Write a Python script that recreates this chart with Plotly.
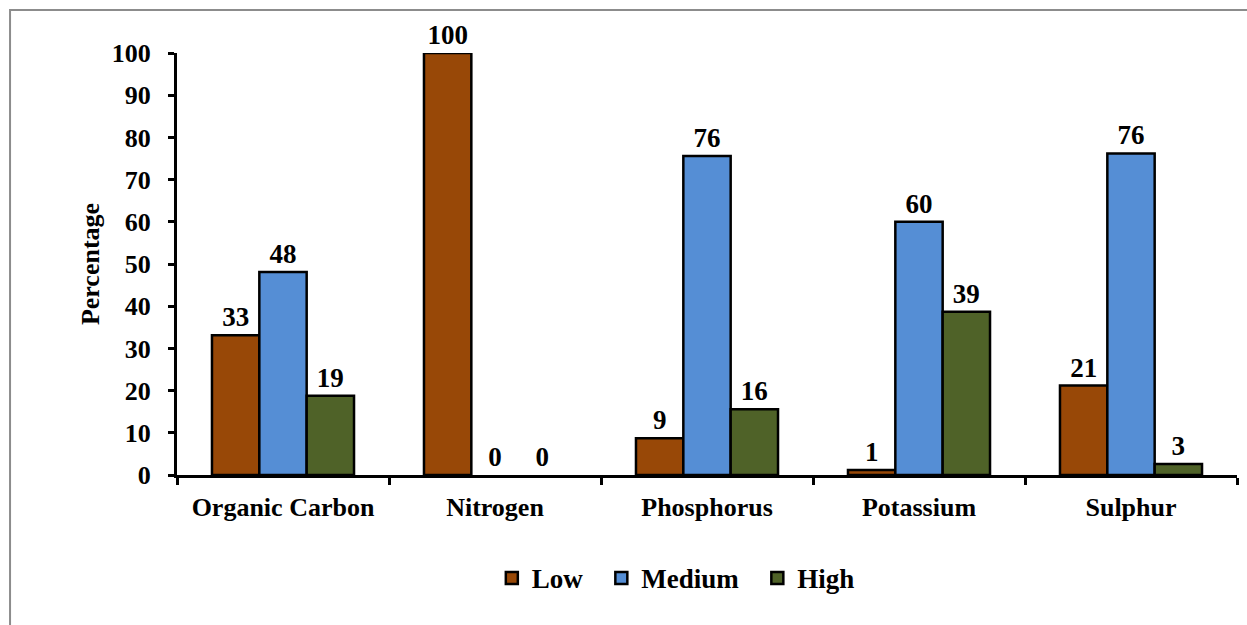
import plotly.graph_objects as go

categories = ["Organic Carbon", "Nitrogen", "Phosphorus", "Potassium", "Sulphur"]
low = [33.1, 100, 8.7, 1.2, 21.2]
medium = [48.1, 0, 75.6, 60.0, 76.2]
high = [18.8, 0, 15.6, 38.7, 2.6]
low_labels = ["33", "100", "9", "1", "21"]
medium_labels = ["48", "0", "76", "60", "76"]
high_labels = ["19", "0", "16", "39", "3"]
y_ticks = [0, 10, 20, 30, 40, 50, 60, 70, 80, 90, 100]

FONT = "Liberation Serif"
FS = 26
series = [
    ("Low", low, low_labels, "#984807"),
    ("Medium", medium, medium_labels, "#558ED5"),
    ("High", high, high_labels, "#4F6228"),
]

fig = go.Figure()
for name, vals, labels, color in series:
    fig.add_trace(go.Bar(
        name=f"<b>{name}</b>&nbsp;&nbsp;", x=categories, y=vals,
        text=[f"<b>{l}</b>" for l in labels],
        textposition="outside", cliponaxis=False,
        textfont=dict(family=FONT, size=27, color="black"),
        marker=dict(color=color,
                    line=dict(color="black", width=[0 if v == 0 else 2.5 for v in vals])),
    ))

fig.update_layout(
    width=1247, height=625,
    margin=dict(l=177, r=10, t=53, b=150),
    paper_bgcolor="white", plot_bgcolor="white",
    barmode="group", bargap=0.33, bargroupgap=0,
    font=dict(family=FONT, size=FS, color="black"),
    showlegend=True,
    legend=dict(orientation="h", x=0.297, xanchor="left", y=-0.245, yanchor="middle",
                font=dict(family=FONT, size=27, color="black"),
                itemwidth=30, traceorder="normal"),
    uniformtext=dict(mode=False),
)
fig.update_xaxes(
    showline=True, linecolor="black", linewidth=3,
    ticks="outside", tickson="boundaries", ticklen=7, tickwidth=3, tickcolor="black",
    tickfont=dict(family=FONT, size=FS, color="black"),
    tickvals=categories, ticktext=[f"<b>{c}</b>" for c in categories],
    ticklabelstandoff=7,
    showgrid=False,
)
fig.update_yaxes(
    range=[0, 100], tickvals=y_ticks, ticktext=[f"<b>{t}</b>" for t in y_ticks],
    showline=True, linecolor="black", linewidth=3,
    ticks="outside", ticklen=6, tickwidth=3, tickcolor="black",
    tickfont=dict(family=FONT, size=FS, color="black"),
    ticklabelstandoff=12,
    showgrid=False, zeroline=False,
    title=dict(text="<b>Percentage</b>", font=dict(family=FONT, size=FS, color="black"), standoff=5),
)

# outer chart border (partially visible)
fig.add_shape(type="rect", xref="paper", yref="paper",
              x0=-0.1575, x1=1.2, y0=-0.6, y1=1.102,
              line=dict(color="#8c8c8c", width=2), fillcolor="rgba(0,0,0,0)", layer="below")

fig.write_html("out.html", config={"displayModeBar": False},
               post_script="document.body.style.margin='0';document.body.style.overflow='hidden';")
